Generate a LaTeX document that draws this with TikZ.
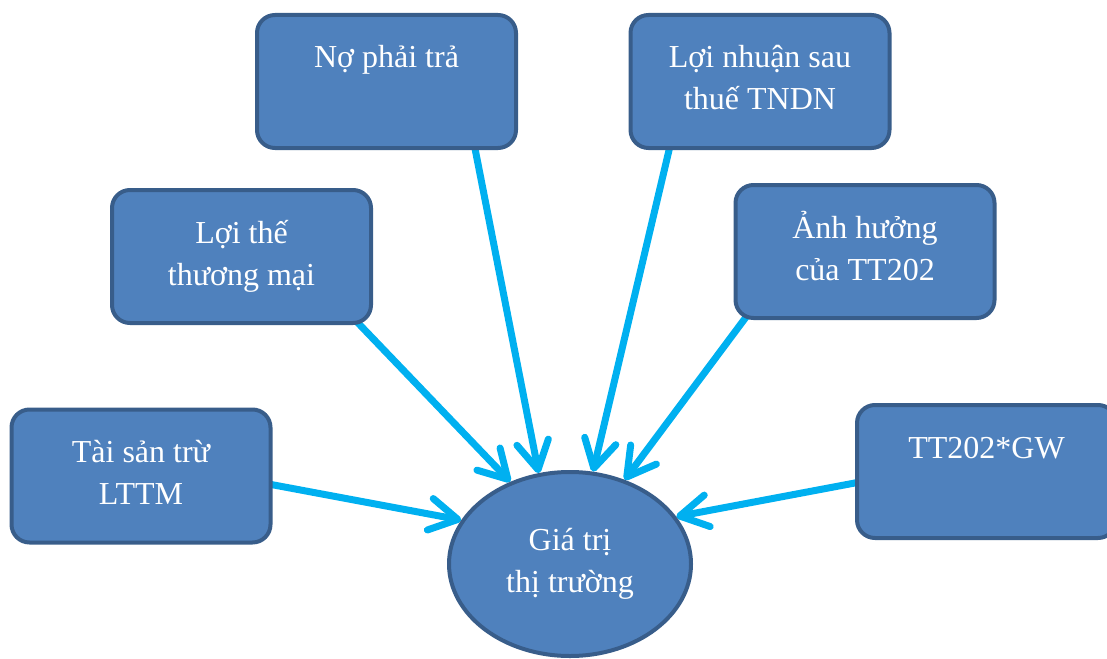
\documentclass[tikz,border=0pt]{standalone}
\usepackage{fontspec}
\setmainfont{Liberation Serif}
\usetikzlibrary{arrows.meta,shapes.geometric}
\definecolor{boxfill}{HTML}{4F81BD}
\definecolor{boxline}{HTML}{385D8A}
\definecolor{arrc}{HTML}{00B0F0}
\pgfdeclarelayer{bg}
\pgfsetlayers{bg,main}
\newcommand{\boxtext}[1]{\parbox[c][133pt][t]{259pt}{\centering\rule{0pt}{53pt}#1}}
\begin{document}
\begin{tikzpicture}[x=1pt,y=-1pt,
 box/.style={draw=boxline, fill=boxfill, line width=4pt, rounded corners=18pt, inner sep=0pt, text=white, font=\fontsize{32}{42}\selectfont},
 oval/.style={ellipse, draw=boxline, fill=boxfill, line width=4pt, inner sep=0pt, minimum width=242pt, minimum height=184pt},
 lbl/.style={inner sep=0pt, text=white, font=\fontsize{32}{42}\selectfont},
 arr/.style={draw=arrc, line width=7pt, -{Straight Barb[length=28pt,width=32pt,round]}}]
\useasboundingbox (0,0) rectangle (1107,658);
\node[box] (no) at (386.5,81.5) {\boxtext{Nợ phải trả}};
\node[box] (ln) at (760,81.5) {\boxtext{Lợi nhuận sau\\thuế TNDN}};
\node[box] (lt) at (241.5,256.5) {\boxtext{Lợi thế\\thương mại}};
\node[box] (ah) at (865,251.5) {\boxtext{Ảnh hưởng\\của TT202}};
\node[box] (ts) at (141,476) {\boxtext{Tài sản trừ\\LTTM}};
\node[box] (tt) at (986.5,471.5) {\boxtext{TT202*GW}};
\node[oval] (gt) at (570,564) {};
\node[lbl, anchor=north] (gtt) at (570,470) {\parbox[t]{240pt}{\centering\rule{0pt}{80pt}Giá trị\\thị trường}};
\begin{pgfonlayer}{bg}
\draw[arr] ([xshift=88pt,yshift=4pt]no.south) -- (gt.109);
\draw[arr] ([xshift=-90pt,yshift=4pt]ln.south) -- (gt.76);
\draw[arr] ([xshift=-25.5pt,yshift=13pt]lt.south east) -- (gt.126);
\draw[arr] ([xshift=23pt,yshift=17pt]ah.south west) -- (gt.57.6);
\draw[arr] ([xshift=-4pt,yshift=-8pt]ts.east) -- (gt.158);
\draw[arr] ([xshift=4pt,yshift=-10.7pt]tt.west) -- (gt.24);
\end{pgfonlayer}
\end{tikzpicture}
\end{document}
